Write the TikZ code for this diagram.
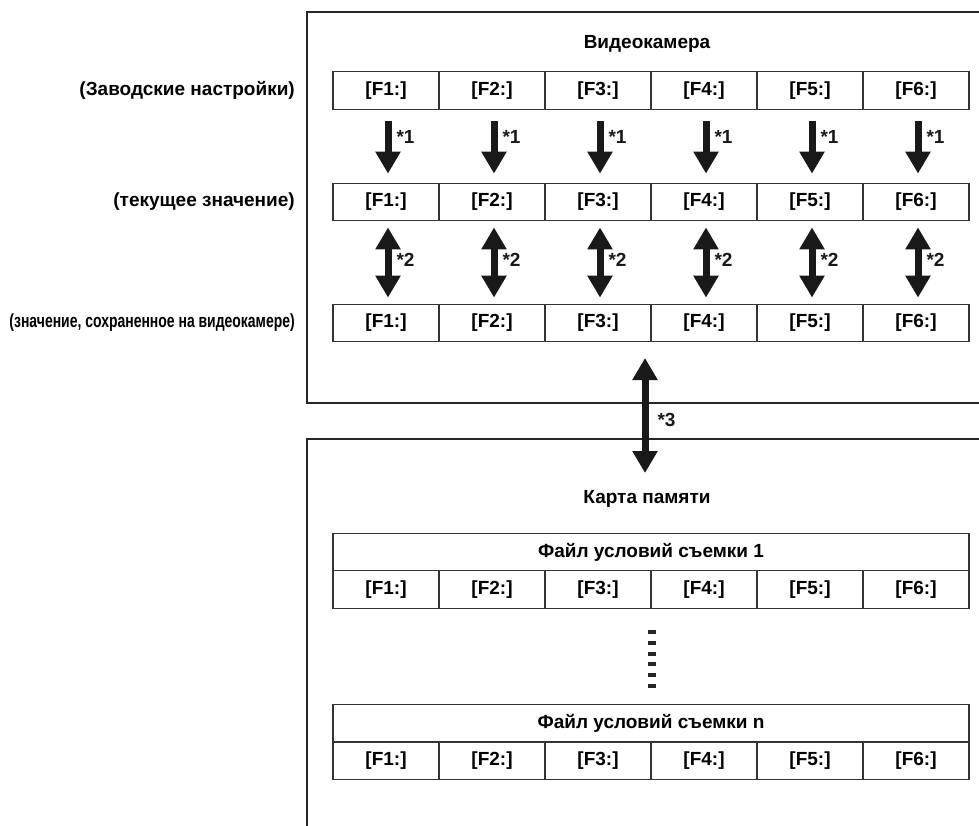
\documentclass[tikz,border=0pt]{standalone}
\usepackage{fontspec}
\setmainfont{Liberation Sans}
\usepackage{graphicx}
\usetikzlibrary{arrows.meta, positioning, calc}

\tikzset{
  frame/.style={draw=black!85, line width=2pt, inner sep=0, anchor=north west},
  cell/.style={draw=black!80, line width=1.3pt, minimum width=106pt, minimum height=37.5pt, inner sep=0, font=\fontsize{19}{22}\selectfont\bfseries},
  wide/.style={cell, minimum width=636pt},
  note/.style={inner sep=1pt, font=\fontsize{19}{22}\selectfont\bfseries},
  side/.style={note, anchor=east},
  down/.style={line width=7pt, black!90, -{Triangle[length=22pt,width=24pt]}},
  both/.style={line width=7pt, black!90, {Triangle[length=22pt,width=24pt]}-{Triangle[length=22pt,width=24pt]}},
}

\begin{document}
\begin{tikzpicture}[x=1pt, y=-1pt]
    \useasboundingbox (0,0) rectangle (979,825);

    % Frames
    \node[frame, minimum width=700pt, minimum height=391pt] (cam) at (306,11) {};
    \node[frame, minimum width=700pt, minimum height=420pt] (card) at (306,438) {};

    % Titles
    \node[note] (camtitle) at (647,44) {Видеокамера};
    \node[note] (cardtitle) at (647,499) {Карта памяти};

    % Rows of cells
    \foreach \r/\y in {a/90.5, b/202, c/323, d/589.5, e/761} {
        \foreach \i in {1,...,6} {
            \node[cell] (\r\i) at ({386+106*(\i-1)}, \y) {[F\i:]};
        }
    }
    \node[wide] (h1) at (651,552) {Файл условий съемки 1};
    \node[wide] (hn) at (651,723) {Файл условий съемки n};

    % Side labels
    \node[side] (lab1) at (296,90.5) {(Заводские настройки)};
    \node[side] (lab2) at (296,202) {(текущее значение)};
    \node[side] (lab3) at (296,323)
        {\scalebox{0.735}[1]{(значение, сохраненное на видеокамере)}};

    % Arrows
    \foreach \i in {1,...,6} {
        \draw[down] ([xshift=2pt,yshift=-11pt]a\i.south) -- ([xshift=2pt,yshift=9pt]b\i.north)
            node[note, pos=0.3, right=4pt] {*1};
        \draw[both] ([xshift=2pt,yshift=-6pt]b\i.south) -- ([xshift=2pt,yshift=6pt]c\i.north)
            node[note, pos=0.46, right=4pt] {*2};
    }
    \coordinate (up3) at (645,358);
    \coordinate (lo3) at (645,473);
    \draw[both] (up3) -- (lo3) node[note, pos=0.54, right=8pt] {*3};

    % Dots
    \foreach \k in {0,...,5}
        \fill[black!85] (648,{630+10.8*\k}) rectangle +(8,4);
\end{tikzpicture}
\end{document}
